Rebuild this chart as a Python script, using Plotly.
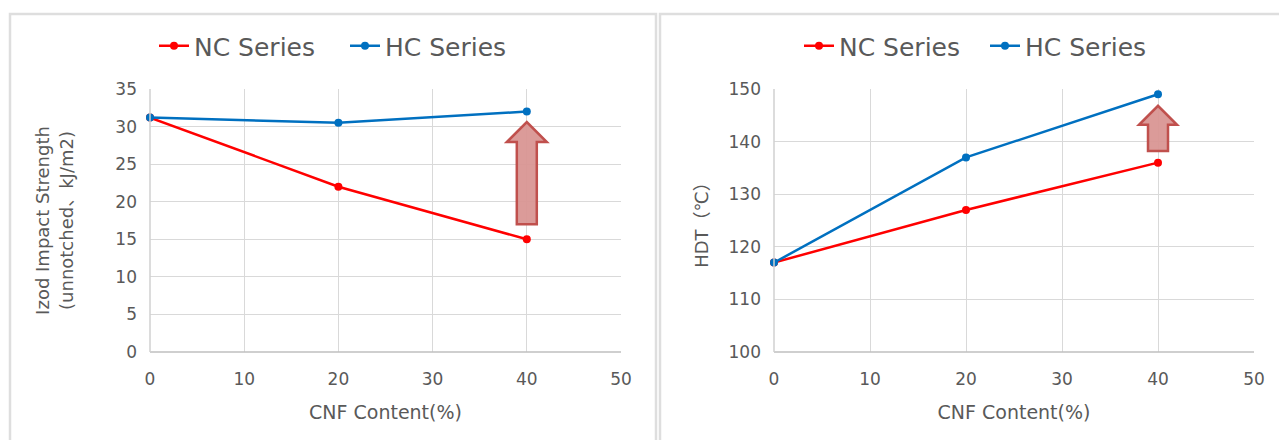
import plotly.graph_objects as go
from plotly.subplots import make_subplots

# CNF content (%) for both property panels
cnf_content = [0, 20, 40]

# Izod impact strength (unnotched, kJ/m2)
izod_nc = [31.2, 22.0, 15.0]
izod_hc = [31.2, 30.5, 32.0]

# Heat deflection temperature (deg C)
hdt_nc = [117, 127, 136]
hdt_hc = [117, 137, 149]

# Improvement arrows: (x, from value, to value) per panel
izod_arrow = [40, 17.0, 30.6]
hdt_arrow = [40, 138.2, 146.8]

series_names = ["NC Series", "HC Series"]
series_colors = ["#ff0000", "#0070c0"]

W, H = 1279, 440
FONT = "DejaVu Sans, Noto Sans CJK JP, sans-serif"
TEXT_COLOR = "#595959"
GRID = "#d9d9d9"

left_dom = [150 / W, 621 / W]
right_dom = [774 / W, 1254 / W]
y_dom = [1 - 352 / H, 1 - 89 / H]

fig = make_subplots(rows=1, cols=2)

panels = [
    (1, izod_nc, izod_hc, "legend"),
    (2, hdt_nc, hdt_hc, "legend2"),
]
for col, nc, hc, leg in panels:
    for name, vals, color in zip(series_names, [nc, hc], series_colors):
        fig.add_trace(
            go.Scatter(
                x=cnf_content, y=vals, name=name, mode="lines+markers",
                line=dict(color=color, width=2.5),
                marker=dict(color=color, size=8),
                legend=leg, cliponaxis=False,
            ),
            row=1, col=col,
        )

axis_common = dict(
    showgrid=True, gridcolor=GRID, gridwidth=1,
    showline=False, zeroline=False, ticks="", automargin=False,
    tickfont=dict(family=FONT, size=17, color=TEXT_COLOR),
    title_font=dict(family=FONT, size=18, color=TEXT_COLOR),
    fixedrange=True,
)

fig.update_xaxes(axis_common)
fig.update_yaxes(axis_common)

x_title_font = dict(family=FONT, size=19, color=TEXT_COLOR)
fig.update_xaxes(range=[0, 50], dtick=10, domain=left_dom, row=1, col=1,
                 ticklabelstandoff=15,
                 title_text="CNF Content(%)", title_standoff=17, title_font=x_title_font)
fig.update_xaxes(range=[0, 50], dtick=10, domain=right_dom, row=1, col=2,
                 ticklabelstandoff=15,
                 title_text="CNF Content(%)", title_standoff=17, title_font=x_title_font)
fig.update_yaxes(range=[0, 35], dtick=5, domain=y_dom, row=1, col=1,
                 ticklabelstandoff=12,
                 title_text="Izod Impact Strength<br>(unnotched、kJ/m2)",
                 title_standoff=37)
fig.update_yaxes(range=[100, 150], dtick=10, domain=y_dom, row=1, col=2,
                 ticklabelstandoff=12,
                 title_text="HDT（℃）", title_standoff=15)

shapes = []

# Panel frames
for x0, x1 in [(10, 656), (660, 1290)]:
    shapes.append(dict(
        type="rect", xref="paper", yref="paper",
        x0=x0 / W, x1=x1 / W, y0=-0.05, y1=1 - 14 / H,
        line=dict(color="#dedede", width=2.5), fillcolor="rgba(0,0,0,0)",
        layer="below",
    ))

# Plot-area outline: left edge light, bottom axis slightly darker
for xr, yr in [("x", "y"), ("x2", "y2")]:
    shapes.append(dict(type="line", xref=xr + " domain", yref=yr + " domain",
                       x0=0, x1=1, y0=0, y1=0, line=dict(color="#bfbfbf", width=1.5)))
    shapes.append(dict(type="line", xref=xr + " domain", yref=yr + " domain",
                       x0=0, x1=0, y0=0, y1=1, line=dict(color="#d0d0d0", width=1.5)))


def arrow_shape(xref, yref, arrow, yrange, head_px=20, shaft_half=10, head_half=20):
    x, y_from, y_to = arrow
    px_per_unit = (y_dom[1] - y_dom[0]) * H / (yrange[1] - yrange[0])
    y_head = y_to - head_px / px_per_unit
    path = (
        f"M{-shaft_half},{y_from} L{shaft_half},{y_from} L{shaft_half},{y_head} "
        f"L{head_half},{y_head} L0,{y_to} L{-head_half},{y_head} "
        f"L{-shaft_half},{y_head} Z"
    )
    return dict(
        type="path", xref=xref, yref=yref, xsizemode="pixel", xanchor=x,
        path=path, fillcolor="rgba(217,150,148,0.95)",
        line=dict(color="#c0504d", width=2.5), layer="above",
    )


shapes.append(arrow_shape("x", "y", izod_arrow, [0, 35], head_px=20, shaft_half=10, head_half=20))
shapes.append(arrow_shape("x2", "y2", hdt_arrow, [100, 150], head_px=19, shaft_half=10, head_half=19))

legend_style = dict(
    orientation="h", yanchor="middle", xanchor="left",
    font=dict(family=FONT, size=25, color=TEXT_COLOR),
    bgcolor="rgba(0,0,0,0)", itemwidth=30, tracegroupgap=0,
    entrywidthmode="pixels",
)

fig.update_layout(
    width=W, height=H,
    margin=dict(l=0, r=0, t=0, b=0, autoexpand=False),
    paper_bgcolor="white", plot_bgcolor="white",
    shapes=shapes,
    showlegend=True,
    legend=dict(legend_style, x=154 / W, y=1 - 46 / H, entrywidth=146),
    legend2=dict(legend_style, x=799 / W, y=1 - 46 / H, entrywidth=141),
)

fig.write_html("out.html")
